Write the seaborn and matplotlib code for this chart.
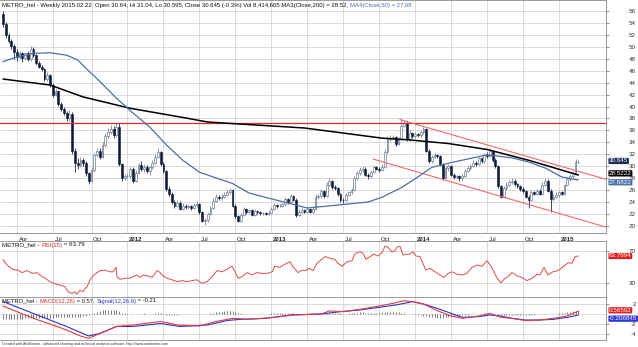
import matplotlib
matplotlib.use("Agg")
import matplotlib.pyplot as plt
import matplotlib.transforms as mtrans
import numpy as np
import pandas as pd
import seaborn as sns

# ---------------- data ----------------
dates = pd.date_range(end="2015-02-20", periods=209, freq="W-FRI")
first_open = 55.5

closes = [
    53.8, 51.9, 51.0, 50.1, 49.2, 48.3, 48.9, 48.1, 48.9, 48.0,
    49.7, 48.6, 47.3, 46.7, 46.2, 44.6, 45.2, 43.6, 42.0, 42.6,
    40.5, 39.6, 38.9, 38.0, 38.8, 32.5, 30.6, 30.2, 31.0, 30.6,
    28.8, 27.6, 29.3, 31.8, 32.6, 31.6, 33.5, 35.0, 35.8, 36.3,
    35.2, 36.6, 30.4, 28.0, 28.3, 28.4, 29.6, 27.6, 28.9, 30.2,
    29.5, 29.9, 29.2, 29.8, 30.6, 31.6, 32.4, 30.4, 29.2, 26.2,
    25.3, 24.0, 23.4, 23.9, 22.9, 23.4, 23.1, 23.3, 23.0, 23.5,
    23.7, 22.3, 20.9, 21.0, 22.0, 23.0, 24.2, 24.9, 24.6, 24.9,
    25.2, 25.6, 26.0, 23.4, 21.6, 20.9, 21.8, 22.8, 22.3, 22.6,
    21.9, 22.5, 22.3, 22.1, 22.2, 22.0, 22.2, 22.9, 23.5, 23.3,
    23.4, 23.6, 24.5, 24.0, 25.0, 24.4, 21.8, 22.4, 22.6, 22.4,
    22.8, 22.4, 22.9, 24.9, 25.0, 25.8, 25.0, 26.9, 27.5, 26.5,
    26.3, 25.3, 24.4, 24.3, 25.2, 25.6, 26.0, 28.0, 28.8, 29.4,
    29.6, 28.6, 28.3, 29.0, 29.8, 29.6, 29.4, 29.9, 32.4, 34.6,
    34.8, 34.9, 33.8, 34.6, 36.8, 37.3, 34.6, 35.6, 35.0, 35.4,
    35.2, 35.8, 36.2, 32.6, 30.8, 31.5, 31.8, 31.7, 30.3, 28.0,
    29.7, 30.0, 28.6, 28.2, 28.3, 28.0, 28.4, 29.2, 29.7, 30.0,
    30.6, 30.4, 31.3, 30.8, 31.9, 31.7, 32.5, 31.0, 30.0, 26.6,
    24.9, 26.3, 26.9, 27.3, 27.6, 27.0, 26.7, 26.2, 25.8, 24.9,
    24.3, 25.6, 25.4, 25.9, 25.4, 26.9, 27.6, 25.9, 24.5, 24.9,
    25.2, 25.6, 25.4, 26.8, 27.9, 28.3, 28.9, 30.64, 30.645,
]
highs = [
    56.0, 54.2, 52.3, 51.3, 50.4, 49.6, 49.3, 49.2, 49.2, 49.3,
    50.1, 50.0, 48.8, 47.6, 47.0, 46.4, 45.7, 45.4, 43.9, 43.0,
    42.8, 40.8, 39.9, 39.2, 39.4, 39.0, 33.0, 31.4, 31.5, 31.3,
    30.9, 29.1, 29.7, 32.2, 33.1, 33.0, 34.0, 35.6, 36.4, 36.9,
    36.7, 37.3, 37.2, 30.6, 28.7, 28.8, 29.9, 29.8, 29.3, 30.6,
    30.8, 30.3, 30.2, 30.1, 31.0, 32.0, 33.1, 32.6, 30.7, 29.4,
    26.6, 25.6, 24.4, 24.3, 24.1, 23.8, 23.6, 23.6, 23.5, 23.8,
    24.1, 23.9, 22.5, 21.4, 22.3, 23.4, 24.6, 25.3, 25.1, 25.3,
    25.6, 26.0, 26.4, 26.2, 23.6, 21.9, 22.1, 23.2, 23.0, 22.9,
    22.8, 22.8, 22.7, 22.5, 22.4, 22.4, 22.5, 23.2, 23.8, 23.7,
    23.7, 23.9, 24.9, 24.7, 25.4, 25.2, 24.6, 22.8, 23.0, 22.9,
    23.1, 23.0, 23.2, 25.3, 25.4, 26.2, 26.0, 27.3, 28.0, 27.7,
    26.8, 26.5, 25.5, 24.7, 25.5, 25.9, 26.4, 28.3, 29.2, 29.9,
    30.0, 29.8, 28.9, 29.3, 30.2, 30.1, 29.9, 30.3, 32.8, 35.0,
    35.3, 35.2, 35.1, 34.9, 38.1, 37.8, 37.5, 36.0, 35.8, 35.7,
    35.6, 36.1, 36.6, 36.4, 32.9, 31.9, 32.2, 32.1, 31.9, 30.5,
    30.0, 30.3, 30.2, 28.8, 28.6, 28.5, 28.7, 29.5, 30.0, 30.3,
    31.0, 30.9, 31.6, 31.5, 32.2, 32.3, 33.1, 32.7, 31.3, 30.2,
    26.9, 26.6, 27.3, 27.7, 28.0, 27.9, 27.2, 26.9, 26.5, 26.0,
    25.1, 26.0, 25.9, 26.2, 26.1, 27.3, 28.1, 27.8, 26.1, 25.3,
    25.6, 25.9, 25.8, 27.1, 28.2, 28.7, 29.2, 31.2, 31.04,
]
lows = [
    53.4, 51.5, 50.6, 49.7, 48.0, 47.6, 47.9, 47.5, 47.8, 47.6,
    47.7, 48.3, 47.0, 46.4, 45.9, 44.2, 44.3, 43.2, 41.6, 41.7,
    40.1, 39.3, 38.5, 37.5, 37.6, 32.0, 29.1, 29.6, 29.9, 30.0,
    28.3, 27.0, 27.3, 29.0, 31.5, 31.2, 31.4, 33.2, 34.7, 35.4,
    34.8, 34.9, 30.0, 27.6, 27.7, 28.0, 28.1, 27.2, 27.4, 28.7,
    29.2, 29.1, 28.8, 28.5, 29.6, 30.3, 31.3, 30.1, 28.9, 25.8,
    25.0, 23.7, 23.0, 23.1, 22.6, 22.7, 22.8, 22.9, 22.7, 22.8,
    23.2, 22.0, 20.6, 20.2, 20.7, 21.8, 22.8, 24.0, 24.3, 24.4,
    24.7, 25.0, 25.3, 23.1, 21.3, 20.6, 20.7, 21.6, 22.0, 22.1,
    21.6, 21.7, 22.0, 21.9, 21.9, 21.8, 21.8, 22.0, 22.7, 23.0,
    23.1, 23.2, 23.4, 23.7, 23.8, 24.1, 21.5, 21.6, 22.1, 22.1,
    22.2, 22.1, 22.1, 22.7, 24.5, 24.7, 24.7, 24.8, 26.6, 26.2,
    26.0, 25.0, 24.0, 23.9, 24.1, 25.0, 25.4, 25.8, 27.7, 28.5,
    29.0, 28.3, 27.9, 28.0, 28.8, 29.3, 29.1, 29.2, 29.7, 32.2,
    34.3, 34.5, 33.4, 33.5, 34.4, 36.5, 34.3, 34.3, 34.7, 34.8,
    34.9, 34.9, 35.4, 32.3, 30.5, 30.6, 31.3, 31.3, 30.0, 27.7,
    27.8, 29.2, 28.3, 27.9, 27.9, 27.6, 27.5, 28.2, 29.0, 29.4,
    29.8, 30.1, 30.2, 30.5, 30.6, 31.4, 31.5, 30.7, 29.7, 26.3,
    24.6, 24.7, 26.0, 26.6, 27.1, 26.7, 26.4, 25.9, 25.5, 24.6,
    23.0, 24.1, 25.1, 25.1, 25.1, 25.2, 26.6, 25.6, 22.3, 24.2,
    24.6, 24.9, 25.1, 25.2, 26.6, 27.6, 28.0, 28.7, 30.595,
]

# moving averages (week index, value)
ma200_week = [0, 17, 29, 46, 67, 74, 109, 137, 147, 161, 175, 190, 198, 208]
ma200_val = [44.6, 43.6, 41.6, 39.7, 38.0, 37.4, 36.4, 34.7, 34.4, 33.8, 32.8, 31.0, 29.9, 28.52]
ma50_week = [0, 5, 11, 17, 23, 27, 30, 35, 41, 47, 53, 59, 65, 71, 76, 83, 89, 99,
             110, 119, 132, 137, 144, 150, 155, 162, 175, 184, 190, 196, 202, 208]
ma50_val = [47.5, 48.3, 48.9, 49.0, 48.6, 47.8, 46.4, 44.2, 41.4, 38.9, 36.6, 33.6, 31.0, 29.0,
            28.2, 27.1, 25.5, 24.3, 23.0, 23.4, 24.0, 24.8, 26.4, 28.2, 29.8, 30.6, 31.9, 31.4,
            30.7, 29.7, 28.2, 27.68]

resistance = 37.2
channel_upper_week = [143.5, 218.0]
channel_upper_val = [37.8, 27.8]
channel_lower_week = [133.8, 218.0]
channel_lower_val = [31.2, 19.8]

rsi_week = [0, 1.4, 3.6, 5.4, 6.9, 8.7, 10.5, 12.3, 14.1, 15.2, 17, 18.8, 20.6, 22.4, 23.5, 24.9,
            26, 26.8, 27.8, 28.9, 29.6, 30.4, 31.5, 32.5, 34, 35.1, 36.9, 38.7, 39.8, 40.9, 41.2,
            42.3, 44.1, 45.9, 47, 48.4, 49.5, 50.6, 52.1, 53.9, 55, 55.7, 56.8, 57.8, 59.3, 61.1,
            62.9, 64.7, 66.5, 68.3, 70.1, 71.9, 73.8, 75.6, 77.4, 79.2, 81, 82.8, 83.9, 85, 86.4,
            88.2, 90, 91.8, 93.6, 95.4, 97.3, 98.3, 100.1, 102, 103.8, 104.8, 106.7, 108.1, 109.5,
            110.6, 112.1, 113.5, 114.5, 116.4, 118.2, 120, 121.1, 122.6, 124.4, 126.2, 127.3,
            129.1, 130.2, 131.2, 132.7, 134.1, 135.6, 137, 138.1, 139.2, 140.6, 141.7, 142.4,
            143.5, 144.6, 145.7, 146.8, 148.2, 149.3, 150.8, 151.8, 152.9, 154.4, 156.2, 158,
            159.4, 160.9, 162.3, 164.1, 165.9, 167.7, 169.6, 171.4, 173.2, 175, 176.1, 177.2,
            178.6, 180, 181.5, 182.6, 184, 185.8, 187.6, 189.4, 191.3, 193.1, 194.1, 195.6, 197,
            198.8, 200.7, 202.5, 204.3, 205.7, 206.8, 208]
rsi_val = [59.6, 52.5, 47, 46, 43, 45.5, 42, 43, 38, 36, 31.7, 29, 27.5, 25.4, 19, 17,
           19, 16, 21, 19, 23, 25.4, 34, 39, 43, 45.5, 46, 44, 44, 49.6, 38,
           34.6, 36, 36, 38, 40, 37, 40, 39, 37, 42, 45.5, 43, 39, 36, 34,
           31.7, 33, 31.7, 33, 34, 29.6, 31.7, 38, 45.5, 44, 47, 51, 44, 36, 38,
           43, 40, 43, 42, 42, 44, 51, 49.6, 53.7, 56.6, 50.4, 43, 46, 45.5,
           48.4, 45.5, 54.6, 57.5, 63, 61, 59.6, 54.6, 51, 56.6, 57.9, 67,
           69, 67, 59.6, 63, 66, 63.7, 68, 76, 74.6, 69, 70.4, 74.6,
           76, 65, 66, 66, 69, 63.7, 63, 54.6, 46, 48.4, 44, 40,
           37, 42, 44, 41, 40, 42, 49.6, 52.5, 51, 57.9, 52.5, 46,
           36, 30.4, 36, 38, 43, 39, 37, 33, 36, 41, 40, 49.6, 40,
           44, 45.5, 50.4, 55.4, 54.6, 63, 63.79]

macd_week = [0, 5, 11, 17, 23, 28, 31, 35, 41, 47, 57, 63, 71, 77, 83, 89, 98, 105, 115, 118,
             123, 129, 136, 141, 145, 148, 152, 157, 162, 166, 172, 176, 180, 184, 189, 194,
             199, 204, 208]
macd_val = [1.6, 0.47, -0.87, -2.0, -3.2, -4.4, -4.87, -3.9, -2.5, -2.2, -1.5, -2.2, -2.4,
            -1.5, -0.87, -1.07, -0.67, -0.2, 0.0, 0.6, 0.47, 0.93, 1.6, 2.13, 2.67, 2.47, 2.0,
            0.67, -0.4, -0.87, -0.4, 0.13, -0.67, -0.87, -1.33, -1.2, -0.87, -0.4, 0.57]
signal_week = [0, 11, 23, 31, 35, 41, 47, 57, 64, 74, 81, 86, 95, 104, 115, 122, 129, 136, 142,
               148, 152, 157, 162, 166, 172, 176, 180, 184, 189, 194, 199, 204, 208]
signal_val = [2.5, 0.1, -2.5, -4.4, -3.9, -2.5, -2.5, -1.9, -2.5, -2.2, -1.3, -1.07, -0.87,
              -0.2, 0.0, 0.47, 0.8, 1.33, 1.8, 2.47, 2.0, 1.13, 0.13, -0.67, -0.53, -0.2, -0.4,
              -0.87, -1.2, -1.2, -1.07, -0.67, -0.21]
macd_hist = [
    -0.9, -0.95, -1.0, -1.0, -1.0, -0.95, -0.9, -0.9, -0.85, -0.85,
    -0.8, -0.8, -0.8, -0.75, -0.75, -0.7, -0.7, -0.7, -0.7, -0.65,
    -0.65, -0.6, -0.6, -0.6, -0.55, -0.6, -0.6, -0.55, -0.5, -0.45,
    -0.35, -0.2, 0.05, 0.3, 0.5, 0.65, 0.75, 0.8, 0.85, 0.9,
    0.9, 0.85, 0.6, 0.3, 0.15, 0.05, 0.0, -0.05, 0.0, 0.05,
    0.1, 0.15, 0.1, 0.05, 0.1, 0.15, 0.2, 0.15, 0.0, -0.1,
    -0.15, -0.15, -0.1, -0.1, -0.05, 0.0, 0.0, 0.05, 0.05, 0.05,
    0.0, -0.05, -0.05, 0.0, 0.1, 0.2, 0.3, 0.4, 0.45, 0.5,
    0.55, 0.6, 0.6, 0.55, 0.4, 0.25, 0.15, 0.1, 0.1, 0.1,
    0.05, 0.05, 0.05, 0.1, 0.1, 0.1, 0.1, 0.15, 0.15, 0.2,
    0.2, 0.25, 0.25, 0.25, 0.2, 0.2, 0.1, 0.05, 0.05, 0.1,
    0.1, 0.15, 0.15, 0.2, 0.25, 0.3, 0.3, 0.3, 0.3, 0.3,
    0.25, 0.2, 0.15, 0.1, 0.1, 0.15, 0.2, 0.25, 0.3, 0.35,
    0.35, 0.3, 0.3, 0.3, 0.3, 0.3, 0.3, 0.35, 0.4, 0.45,
    0.45, 0.4, 0.35, 0.35, 0.3, 0.2, 0.1, 0.05, 0.0, -0.05,
    -0.1, -0.2, -0.3, -0.45, -0.55, -0.6, -0.65, -0.7, -0.7, -0.7,
    -0.65, -0.6, -0.5, -0.45, -0.4, -0.3, -0.2, -0.15, -0.1, -0.05,
    0.0, 0.05, 0.1, 0.1, 0.15, 0.15, 0.1, 0.05, 0.0, -0.1,
    -0.2, -0.2, -0.15, -0.15, -0.1, -0.1, -0.1, -0.1, -0.15, -0.15,
    -0.15, -0.1, -0.1, -0.05, -0.05, 0.0, 0.05, 0.05, 0.0, 0.05,
    0.1, 0.15, 0.25, 0.3, 0.4, 0.5, 0.6, 0.7, 0.78,
]

price_ticks = list(range(20, 57, 2))
rsi_ticks = [30, 70]
macd_ticks = [-4, -2, 2]

title_main = "METRO_hel - Weekly 2015.02.22  Open 30.64, Hi 31.04, Lo 30.595, Close 30.645 (-0.3%) Vol 8,414,605 MA3(Close,200) = 28.52, "
title_ma50 = "MA4(Close,50) = 27.68"
footer = "Created with AmiBroker - advanced charting and technical analysis software. http://www.amibroker.com"

# ---------------- styling ----------------
sns.set_theme(style="white")
plt.rcParams['font.family'] = ['Liberation Sans', 'DejaVu Sans']

W, H = 638, 347
fig = plt.figure(figsize=(W / 100, H / 100), dpi=100)
fig.patch.set_facecolor('white')


def rect(l, t, r, b):
    return [l / W, 1 - b / H, (r - l) / W, (b - t) / H]


ax = fig.add_axes(rect(0, 0, 606, 233))
ax_r = fig.add_axes(rect(0, 241, 606, 297))
ax_m = fig.add_axes(rect(0, 297, 606, 340))

GRID = '#d4d4d4'
C_DARK = '#0c1a38'
C_HOLLOW = '#6d7c96'
C_MA50 = '#4c6ea8'
C_RED = '#e02828'
C_BLUE = '#2c34d6'

n = len(closes)
weeks = np.arange(n)
opens = [first_open] + closes[:-1]
df = pd.DataFrame({'week': weeks, 'open': opens, 'high': highs, 'low': lows, 'close': closes})

# quarter boundaries from the dates
qpos, qlab, qbold = [], [], []
for i in range(1, n):
    d, p = dates[i], dates[i - 1]
    if d.month != p.month and d.month in (1, 4, 7, 10):
        qpos.append(i)
        qlab.append(str(d.year) if d.month == 1 else d.strftime('%b'))
        qbold.append(d.month == 1)

XMIN, XMAX = -1.08, 218.0
for a in (ax, ax_r, ax_m):
    a.set_xlim(XMIN, XMAX)
    a.set_facecolor('white')
    for q in qpos:
        a.axvline(q, color=GRID, lw=0.6, zorder=0)
    a.spines['left'].set_visible(False)
    for s in ('top', 'right', 'bottom'):
        a.spines[s].set_color('#8a8a8a')
        a.spines[s].set_linewidth(0.6)
    a.yaxis.tick_right()
    a.tick_params(axis='y', which='both', direction='out', length=2, width=0.5,
                  color='#666666', labelsize=4.5, labelcolor='#333333', pad=19.5,
                  left=False, right=True, labelleft=False, labelright=True)

# ---------------- price panel ----------------
ax.set_ylim(18.81, 57.84)
for v in price_ticks:
    ax.axhline(v, color=GRID, lw=0.6, zorder=0)

up = df['close'] >= df['open']
body_lo = np.minimum(df['open'], df['close'])
body_h = np.maximum(np.abs(df['close'] - df['open']), 0.07)
ax.vlines(df['week'][up], df['low'][up], df['high'][up], color=C_HOLLOW, lw=0.55, zorder=2)
ax.vlines(df['week'][~up], df['low'][~up], df['high'][~up], color=C_DARK, lw=0.55, zorder=2)
ax.bar(df['week'][up], body_h[up], bottom=body_lo[up], width=0.66, color='white',
       edgecolor=C_HOLLOW, linewidth=0.5, zorder=3)
ax.bar(df['week'][~up], body_h[~up], bottom=body_lo[~up], width=0.66, color=C_DARK,
       edgecolor=C_DARK, linewidth=0.4, zorder=3)

ax.axhline(resistance, color=C_RED, lw=0.9, zorder=4)
sns.lineplot(x=channel_upper_week, y=channel_upper_val, ax=ax, color='#f06a6a', lw=0.8, zorder=4)
sns.lineplot(x=channel_lower_week, y=channel_lower_val, ax=ax, color='#f06a6a', lw=0.8, zorder=4)
sns.lineplot(x=ma200_week, y=ma200_val, ax=ax, color='black', lw=1.1, zorder=5)
sns.lineplot(x=ma50_week, y=ma50_val, ax=ax, color=C_MA50, lw=0.9, zorder=5)

ax.set_yticks(price_ticks)
ax.set_yticklabels([str(v) for v in price_ticks], ha='right')
ax.set_xticks(qpos)
ax.set_xticklabels(qlab, ha='left')
ax.tick_params(axis='x', direction='out', length=2.5, width=0.5, color='#555555',
               labelsize=4.3, labelcolor='#222222', pad=0.6)
off = mtrans.ScaledTranslation(1.2 / 72, 0, fig.dpi_scale_trans)
for lbl, b in zip(ax.get_xticklabels(), qbold):
    lbl.set_transform(lbl.get_transform() + off)
    if b:
        lbl.set_fontweight('bold')
ax.set_xlabel('')
ax.set_ylabel('')

# ---------------- RSI panel ----------------
ax_r.set_ylim(12.5, 82.5)
for v in rsi_ticks:
    ax_r.axhline(v, color=GRID, lw=0.6, zorder=0)
sns.lineplot(x=rsi_week, y=rsi_val, ax=ax_r, color='#e34a4a', lw=0.7, zorder=3)
ax_r.set_yticks(rsi_ticks)
ax_r.set_yticklabels([str(v) for v in rsi_ticks], ha='right')
ax_r.set_xticks([])
ax_r.set_xlabel('')
ax_r.set_ylabel('')

# ---------------- MACD panel ----------------
ax_m.set_ylim(-5.2, 3.4)
for v in macd_ticks:
    ax_m.axhline(v, color=GRID, lw=0.6, zorder=0)
ax_m.axhline(0, color='#8c8c8c', lw=0.5, ls=(0, (1, 1.5)), zorder=1)
ax_m.vlines(weeks, 0, macd_hist, color='#555555', lw=0.55, zorder=2)
sns.lineplot(x=signal_week, y=signal_val, ax=ax_m, color=C_BLUE, lw=0.8, zorder=3)
sns.lineplot(x=macd_week, y=macd_val, ax=ax_m, color='#e33c3c', lw=0.8, zorder=4)
ax_m.set_yticks(macd_ticks)
ax_m.set_yticklabels([str(v) for v in macd_ticks], ha='right')
ax_m.set_xticks([])
ax_m.set_xlabel('')
ax_m.set_ylabel('')


# ---------------- value badges ----------------
def badge(a, val, text, fc, dy=0.0):
    tr = mtrans.blended_transform_factory(a.transAxes, a.transData) + \
        mtrans.ScaledTranslation(0, dy / 72, fig.dpi_scale_trans)
    a.text(1.005, val, text, transform=tr, fontsize=4.5, color='white', va='center', ha='left',
           bbox=dict(boxstyle='round,pad=0.1,rounding_size=0.15', fc=fc, ec='none'),
           clip_on=False, zorder=30)


badge(ax, closes[-1], "30.645", '#1c2c52', dy=1.0)
badge(ax, ma50_val[-1], "27.6822", C_MA50, dy=-1.6)
badge(ax, ma200_val[-1], "28.5222", 'black', dy=1.2)
badge(ax_r, rsi_val[-1], "63.7894", '#e02020')
badge(ax_m, signal_val[-1], "-0.206845", C_BLUE, dy=-2.6)
badge(ax_m, macd_val[-1], "0.56592", '#e02020', dy=0.6)


# ---------------- titles ----------------
def chain(host, x_px, y_px, parts, size):
    t = host.text(x_px / W, 1 - y_px / H, parts[0][0], color=parts[0][1], fontsize=size,
                  va='center', ha='left', transform=fig.transFigure, zorder=40, clip_on=False)
    for s, c in parts[1:]:
        t = host.annotate(s, xy=(1, 0), xycoords=t, va='bottom', ha='left', color=c,
                          fontsize=size, annotation_clip=False, zorder=40)


chain(ax_m, 2, 5, [(title_main, '#111111'), (title_ma50, C_MA50)], 4.3)
chain(ax_m, 2, 245, [("METRO_hel - ", '#111111'), ("RSI(15)", '#e02828'), (" = 63.79", '#111111')], 4.4)
chain(ax_m, 2, 301, [("METRO_hel - ", '#111111'), ("MACD(12,26)", '#e02828'), (" = 0.57, ", '#111111'),
                     ("Signal(12,26,9)", C_BLUE), (" = -0.21", '#111111')], 4.2)
fig.text(2 / W, 1 - 344 / H, footer, fontsize=2.6, color='#333333', va='center', ha='left')

fig.savefig("out.png", dpi=100, facecolor='white')
